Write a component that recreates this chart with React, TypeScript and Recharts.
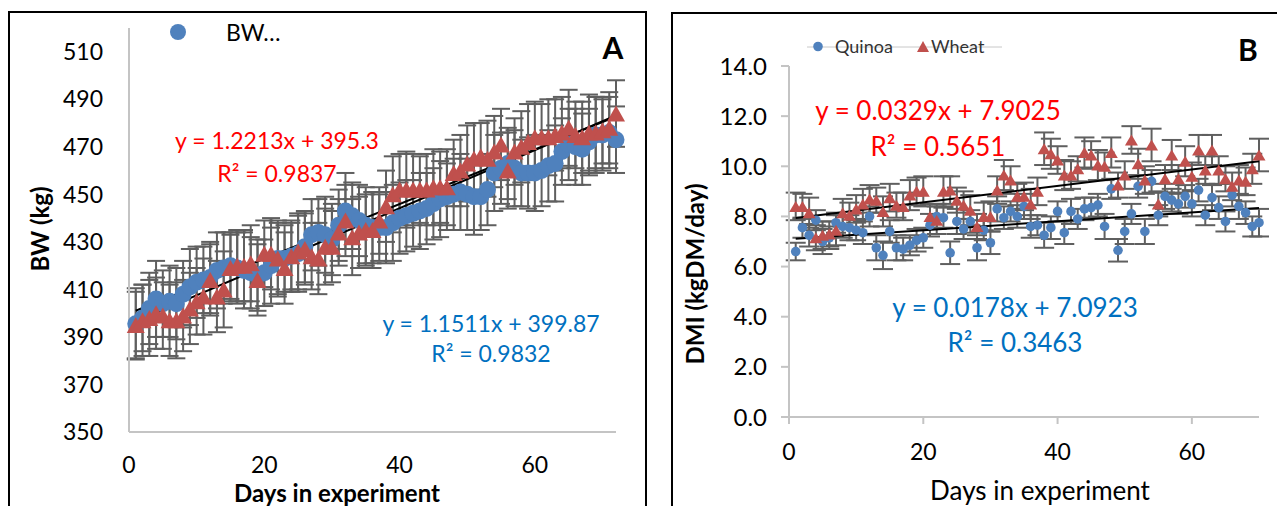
import React from 'react';
import { ScatterChart, Scatter, XAxis, YAxis, ErrorBar, ReferenceLine } from 'recharts';

// ---------- Panel A: body weight ----------
const daysA = [
  1, 2, 3, 4, 5, 6, 7, 8, 9, 10, 11, 12,
  13, 14, 15, 16, 17, 18, 19, 20, 21, 22, 23, 24,
  25, 26, 27, 28, 29, 30, 31, 32, 33, 34, 35, 36,
  37, 38, 39, 40, 41, 42, 43, 44, 45, 46, 47, 48,
  49, 50, 51, 52, 53, 54, 55, 56, 57, 58, 59, 60,
  61, 62, 63, 64, 65, 66, 67, 68, 69, 70, 71, 72,
];
const quinoaBW = [
  395.5, 398, 402, 406, 404, 405, 404, 408, 411, 413, 414, 415,
  418, 419, 420, 419, 418, 417, 416, 417, 420, 423, 423, 424,
  425, 428, 433, 434, 433, 431, 437, 443, 441, 439, 437, 436,
  436, 436, 438, 440, 441, 442, 443, 444, 446, 448, 449, 450,
  451, 450, 449, 449, 452, 459, 461, 463, 461, 459, 459, 459,
  460, 462, 463, 468, 471, 470, 469, 472, 475, 475, 476, 473,
];
const wheatBW = [
  395, 397, 398, 400, 399, 397, 397, 399, 402, 405, 407, 414,
  407, 410, 419, 420, 420, 421, 414, 425, 425, 423, 419, 424,
  426, 427, 424, 423, 428, 428, 434, 439, 432, 434, 435, 435,
  439, 445, 450, 452, 452, 452, 452, 452, 453, 453, 453, 459,
  460, 463, 465, 466, 465, 468, 471, 460, 468, 470, 472, 474,
  474, 474, 475, 476, 478, 475, 474, 476, 476, 477, 478, 484,
];
const quinoaBWErr = [
  15, 14, 15, 16, 14, 15, 15, 14, 16, 15, 14, 15,
  16, 15, 14, 15, 16, 15, 15, 14, 16, 15, 14, 15,
  16, 15, 15, 14, 16, 15, 15, 16, 14, 15, 16, 15,
  14, 15, 16, 15, 15, 14, 16, 15, 15, 16, 14, 15,
  16, 15, 16, 14, 15, 16, 15, 15, 16, 14, 15, 16,
  15, 15, 16, 14, 15, 16, 15, 14, 16, 15, 15, 14,
];
const wheatBWErr = [
  14, 15, 16, 15, 14, 15, 16, 15, 15, 14, 16, 15,
  15, 16, 14, 15, 15, 16, 15, 14, 15, 16, 15, 14,
  16, 15, 14, 15, 16, 15, 14, 15, 16, 15, 15, 16,
  14, 15, 16, 15, 16, 15, 14, 15, 16, 15, 16, 14,
  15, 16, 15, 14, 16, 15, 15, 16, 14, 15, 16, 15,
  14, 16, 15, 15, 16, 14, 15, 16, 15, 14, 15, 14,
];
const ticksAY = [350, 370, 390, 410, 430, 450, 470, 490, 510];
const ticksAX = [0, 20, 40, 60];
const trendQuinoaA = [1.1511, 399.87];
const trendWheatA = [1.2213, 395.3];

// ---------- Panel B: dry matter intake ----------
const daysB = [
  1, 2, 3, 4, 5, 6, 7, 8, 9, 10,
  11, 12, 13, 14, 15, 16, 17, 18, 19, 20,
  21, 22, 23, 24, 25, 26, 27, 28, 29, 30,
  31, 32, 33, 34, 35, 36, 37, 38, 39, 40,
  41, 42, 43, 44, 45, 46, 47, 48, 49, 50,
  51, 52, 53, 54, 55, 56, 57, 58, 59, 60,
  61, 62, 63, 64, 65, 66, 67, 68, 69, 70,
];
const quinoaDMI = [
  6.6, 7.55, 7.25, 7.85, 7.0, 7.15, 7.75, 7.6, 7.55, 7.45,
  7.35, 8.0, 6.75, 6.45, 7.4, 6.75, 6.7, 6.85, 7.05, 7.15,
  7.65, 8.0, 7.95, 6.55, 7.8, 7.5, 7.8, 6.75, 7.45, 6.95,
  8.3, 7.95, 8.2, 8.0, 8.4, 7.6, 7.65, 7.25, 7.55, 8.2,
  7.35, 8.2, 7.9, 8.3, 8.35, 8.45, 7.6, 9.1, 6.65, 7.4,
  8.1, 9.2, 7.4, 9.4, 8.05, 8.8, 8.65, 8.5, 8.8, 8.5,
  9.05, 8.05, 8.75, 8.35, 7.8, 8.85, 8.4, 8.15, 7.6, 7.75,
];
const wheatDMI = [
  8.4, 8.4, 8.15, 7.15, 7.25, 7.3, 7.45, 8.15, 8.05, 8.3,
  8.5, 8.7, 8.65, 8.2, 8.75, 8.45, 8.4, 8.85, 9.0, 9.0,
  8.0, 7.85, 9.0, 9.05, 8.65, 8.45, 8.25, 7.6, 8.0, 8.0,
  9.05, 9.65, 9.45, 8.8, 8.8, 8.5, 9.0, 10.7, 10.5, 10.25,
  9.65, 9.65, 9.9, 10.55, 10.45, 10.05, 10.0, 10.55, 9.25, 9.65,
  11.05, 10.1, 9.45, 10.85, 8.5, 9.5, 10.45, 9.5, 10.2, 9.6,
  10.65, 9.85, 10.65, 9.85, 9.5, 9.2, 9.45, 9.4, 9.9, 10.45,
];
const quinoaDMIErr = [
  0.35, 0.4, 0.45, 0.4, 0.5, 0.45, 0.4, 0.45, 0.5, 0.4,
  0.45, 0.4, 0.5, 0.55, 0.45, 0.5, 0.45, 0.4, 0.45, 0.4,
  0.45, 0.5, 0.4, 0.45, 0.5, 0.4, 0.45, 0.5, 0.4, 0.45,
  0.5, 0.45, 0.4, 0.45, 0.5, 0.45, 0.4, 0.5, 0.45, 0.4,
  0.45, 0.5, 0.4, 0.45, 0.4, 0.45, 0.5, 0.4, 0.45, 0.5,
  0.4, 0.45, 0.5, 0.45, 0.4, 0.5, 0.45, 0.4, 0.45, 0.5,
  0.45, 0.4, 0.5, 0.45, 0.4, 0.45, 0.5, 0.45, 0.4, 0.55,
];
const wheatDMIErr = [
  0.55, 0.5, 0.6, 0.5, 0.55, 0.5, 0.6, 0.55, 0.5, 0.55,
  0.6, 0.55, 0.5, 0.6, 0.55, 0.5, 0.55, 0.6, 0.55, 0.6,
  0.5, 0.55, 0.6, 0.55, 0.5, 0.55, 0.6, 0.5, 0.55, 0.6,
  0.55, 0.6, 0.55, 0.5, 0.55, 0.6, 0.55, 0.65, 0.6, 0.55,
  0.6, 0.55, 0.5, 0.6, 0.55, 0.6, 0.55, 0.6, 0.5, 0.55,
  0.55, 0.6, 0.55, 0.65, 0.5, 0.55, 0.6, 0.55, 0.6, 0.55,
  0.6, 0.55, 0.6, 0.55, 0.5, 0.55, 0.6, 0.55, 0.6, 0.65,
];
const ticksBY = [0, 2, 4, 6, 8, 10, 12, 14];
const ticksBX = [0, 20, 40, 60];
const trendQuinoaB = [0.0178, 7.0923];
const trendWheatB = [0.0329, 7.9025];

const BLUE = '#4F81BD';
const RED = '#C0504D';
const ERR = '#5f5f5f';
const AXIS = '#c4c4c4';
const FONT = 'Lato, "Open Sans", sans-serif';

const build = (xs: number[], ys: number[], es: number[]) =>
  xs.map((x, i) => ({ x, y: ys[i], e: es[i] }));

const circleShape = (r: number, fill: string) => (p: any) => (
  <circle cx={p.cx} cy={p.cy} r={r} fill={fill} />
);
const triShape = (w: number, h: number, fill: string) => (p: any) => (
  <polygon
    points={`${p.cx},${p.cy - h / 2} ${p.cx - w / 2},${p.cy + h / 2} ${p.cx + w / 2},${p.cy + h / 2}`}
    fill={fill}
  />
);

const seg = (t: number[], x0: number, x1: number) => [
  { x: x0, y: t[0] * x0 + t[1] },
  { x: x1, y: t[0] * x1 + t[1] },
];

const Txt = ({ x, y, size, color = '#000', bold = false, children, rotate = false }: any) => (
  <div
    style={{
      position: 'absolute',
      left: x,
      top: y,
      transform: `translate(-50%, -50%)${rotate ? ' rotate(-90deg)' : ''}`,
      fontSize: size,
      color,
      fontWeight: bold ? 700 : 400,
      fontFamily: FONT,
      whiteSpace: 'nowrap',
      lineHeight: 1,
    }}
  >
    {children}
  </div>
);

export default function App() {
  const qA = build(daysA, quinoaBW, quinoaBWErr);
  const wA = build(daysA, wheatBW, wheatBWErr);
  const qB = build(daysB, quinoaDMI, quinoaDMIErr);
  const wB = build(daysB, wheatDMI, wheatDMIErr);

  return (
    <div
      style={{
        position: 'absolute',
        left: 0,
        top: 0,
        width: 1277,
        height: 506,
        overflow: 'hidden',
        background: '#fff',
        fontFamily: FONT,
      }}
    >
      {/* panel frames */}
      <div style={{ position: 'absolute', left: 8, top: 11, width: 639, height: 530, border: '2px solid #000', boxSizing: 'border-box' }} />
      <div style={{ position: 'absolute', left: 671, top: 12, width: 640, height: 530, border: '2px solid #000', boxSizing: 'border-box' }} />

      {/* Panel A chart */}
      <div style={{ position: 'absolute', left: 0, top: 0 }}>
        <ScatterChart width={650} height={506} margin={{ top: 28, left: 69, right: 34, bottom: 34 }}>
          <XAxis
            type="number"
            dataKey="x"
            domain={[0, 72]}
            ticks={ticksAX}
            tickLine={false}
            axisLine={{ stroke: AXIS, strokeWidth: 2 }}
            tickSize={6}
            tickMargin={19}
            height={40}
            tick={{ fontSize: 23, fill: '#000', fontFamily: FONT }}
          />
          <YAxis
            type="number"
            dataKey="y"
            domain={[350, 520]}
            ticks={ticksAY}
            tickLine={false}
            axisLine={{ stroke: AXIS, strokeWidth: 2 }}
            width={60}
            tickSize={6}
            tickMargin={20}
            tick={{ fontSize: 23, fill: '#000', fontFamily: FONT }}
          />
          <Scatter data={qA} isAnimationActive={false} shape={circleShape(8.5, BLUE)}>
            <ErrorBar dataKey="e" direction="y" width={9} stroke={ERR} strokeWidth={2} isAnimationActive={false} />
          </Scatter>
          <Scatter data={wA} isAnimationActive={false} shape={triShape(18, 16, RED)}>
            <ErrorBar dataKey="e" direction="y" width={9} stroke={ERR} strokeWidth={2} isAnimationActive={false} />
          </Scatter>
          <ReferenceLine segment={seg(trendQuinoaA, 1, 72)} stroke="#000" strokeWidth={2} ifOverflow="visible" />
          <ReferenceLine segment={seg(trendWheatA, 1, 72)} stroke="#000" strokeWidth={2} ifOverflow="visible" />
        </ScatterChart>
      </div>

      {/* Panel B chart */}
      <div style={{ position: 'absolute', left: 660, top: 0 }}>
        <ScatterChart width={617} height={506} margin={{ top: 66, left: 69, right: 18, bottom: 49 }}>
          <XAxis
            type="number"
            dataKey="x"
            domain={[0, 70]}
            ticks={ticksBX}
            tickLine={{ stroke: AXIS, strokeWidth: 2 }}
            axisLine={{ stroke: AXIS, strokeWidth: 2 }}
            tickSize={7}
            tickMargin={20}
            height={40}
            tick={{ fontSize: 23, fill: '#000', fontFamily: FONT }}
          />
          <YAxis
            type="number"
            dataKey="y"
            domain={[0, 14]}
            ticks={ticksBY}
            tickFormatter={(v: number) => v.toFixed(1)}
            tickLine={{ stroke: AXIS, strokeWidth: 2 }}
            axisLine={{ stroke: AXIS, strokeWidth: 2 }}
            width={60}
            tickSize={8}
            tickMargin={14}
            tick={{ fontSize: 24, fill: '#000', fontFamily: FONT }}
          />
          <Scatter data={qB} isAnimationActive={false} shape={circleShape(4.8, BLUE)}>
            <ErrorBar dataKey="e" direction="y" width={10} stroke={ERR} strokeWidth={2} isAnimationActive={false} />
          </Scatter>
          <Scatter data={wB} isAnimationActive={false} shape={triShape(13, 11, RED)}>
            <ErrorBar dataKey="e" direction="y" width={10} stroke={ERR} strokeWidth={2} isAnimationActive={false} />
          </Scatter>
          <ReferenceLine segment={seg(trendQuinoaB, 1, 70)} stroke="#000" strokeWidth={2} ifOverflow="visible" />
          <ReferenceLine segment={seg(trendWheatB, 1, 70)} stroke="#000" strokeWidth={2} ifOverflow="visible" />
        </ScatterChart>
      </div>

      {/* legend markers */}
      <svg style={{ position: 'absolute', left: 0, top: 0 }} width={1277} height={506}>
        <circle cx={178} cy={32} r={8} fill={BLUE} />
        <line x1={807} y1={47} x2={1002} y2={47} stroke="#c8c8c8" strokeWidth={1} />
        <circle cx={818} cy={46.5} r={4.8} fill={BLUE} />
        <polygon points="923,41 917,52 929,52" fill={RED} />
      </svg>

      {/* Panel A texts */}
      <div style={{ position: 'absolute', left: 226, top: 32, transform: 'translateY(-50%)', fontSize: 23, lineHeight: 1, fontFamily: FONT }}>BW…</div>
      <Txt x={613} y={47} size={30} bold>A</Txt>
      <Txt x={277} y={140} size={23} color="#FF0000">y = 1.2213x + 395.3</Txt>
      <Txt x={277} y={173} size={23} color="#FF0000">R² = 0.9837</Txt>
      <Txt x={491} y={323} size={23} color="#0070C0">y = 1.1511x + 399.87</Txt>
      <Txt x={491} y={353} size={23} color="#0070C0">R² = 0.9832</Txt>
      <Txt x={40} y={229} size={24} bold rotate>BW (kg)</Txt>
      <Txt x={337} y={493} size={24} bold>Days in experiment</Txt>

      {/* Panel B texts */}
      <div style={{ position: 'absolute', left: 835, top: 46, transform: 'translateY(-50%)', fontSize: 18, lineHeight: 1, color: '#333', fontFamily: FONT }}>Quinoa</div>
      <div style={{ position: 'absolute', left: 931, top: 46, transform: 'translateY(-50%)', fontSize: 18, lineHeight: 1, color: '#333', fontFamily: FONT }}>Wheat</div>
      <Txt x={1248} y={49} size={30} bold>B</Txt>
      <Txt x={938} y={110} size={26} color="#FF0000">y = 0.0329x + 7.9025</Txt>
      <Txt x={938} y={146} size={26} color="#FF0000">R² = 0.5651</Txt>
      <Txt x={1015} y={307} size={26} color="#0070C0">y = 0.0178x + 7.0923</Txt>
      <Txt x={1015} y={342} size={26} color="#0070C0">R² = 0.3463</Txt>
      <Txt x={695} y={274} size={24} bold rotate>DMI (kgDM/day)</Txt>
      <Txt x={1040} y={490} size={26}>Days in experiment</Txt>
    </div>
  );
}
